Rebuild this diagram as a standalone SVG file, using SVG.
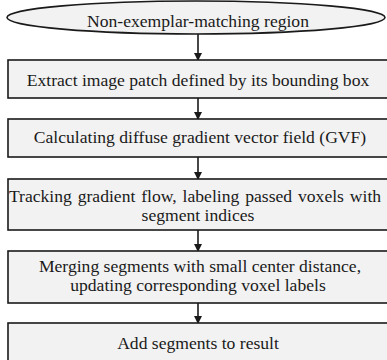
<svg xmlns="http://www.w3.org/2000/svg" width="387" height="360" viewBox="0 0 387 360">
<defs>
<style>
.n{fill:#f2f2f2;stroke:#1a1a1a;stroke-width:1.6}
.t{font-family:"Liberation Serif","Times New Roman",serif;font-size:17.6px;fill:#1a1a1a;text-anchor:middle}
.c{stroke:#1a1a1a;stroke-width:1.6;fill:none}
</style>
<marker id="ah" markerWidth="8" markerHeight="10" refX="8" refY="5" orient="auto" markerUnits="userSpaceOnUse" viewBox="0 0 10 10" >
<path d="M0,0 L10,5 L0,10 z" fill="#1a1a1a"/>
</marker>
</defs>
<rect width="387" height="360" fill="#ffffff"/>
<g id="connectors">
<line class="c" x1="198" y1="34" x2="198" y2="59.5" marker-end="url(#ah)"/>
<line class="c" x1="198" y1="98" x2="198" y2="118.5" marker-end="url(#ah)"/>
<line class="c" x1="198" y1="157" x2="198" y2="178.5" marker-end="url(#ah)"/>
<line class="c" x1="198" y1="230" x2="198" y2="250.5" marker-end="url(#ah)"/>
<line class="c" x1="198" y1="303" x2="198" y2="322.5" marker-end="url(#ah)"/>
</g>
<g id="start">
<ellipse class="n" cx="196" cy="17.5" rx="189" ry="16.5"/>
<text class="t" x="198" y="27">Non-exemplar-matching  region</text>
</g>
<g id="extract">
<rect class="n" x="8" y="60" width="381" height="38"/>
<text class="t" x="198" y="86">Extract image patch defined by its bounding box</text>
</g>
<g id="gvf">
<rect class="n" x="8" y="119" width="381" height="38"/>
<text class="t" x="200" y="143">Calculating diffuse gradient vector field (GVF)</text>
</g>
<g id="tracking">
<rect class="n" x="8" y="179" width="381" height="51"/>
<text class="t" x="195" y="202" word-spacing="1.5">Tracking gradient flow, labeling passed voxels with</text>
<text class="t" x="198" y="221">segment indices</text>
</g>
<g id="merging">
<rect class="n" x="8" y="251" width="381" height="52"/>
<text class="t" x="200" y="272">Merging segments with small center distance,</text>
<text class="t" x="198" y="291">updating corresponding voxel labels</text>
</g>
<g id="add">
<rect class="n" x="8" y="323" width="381" height="45"/>
<text class="t" x="198" y="349">Add segments to result</text>
</g>
</svg>
